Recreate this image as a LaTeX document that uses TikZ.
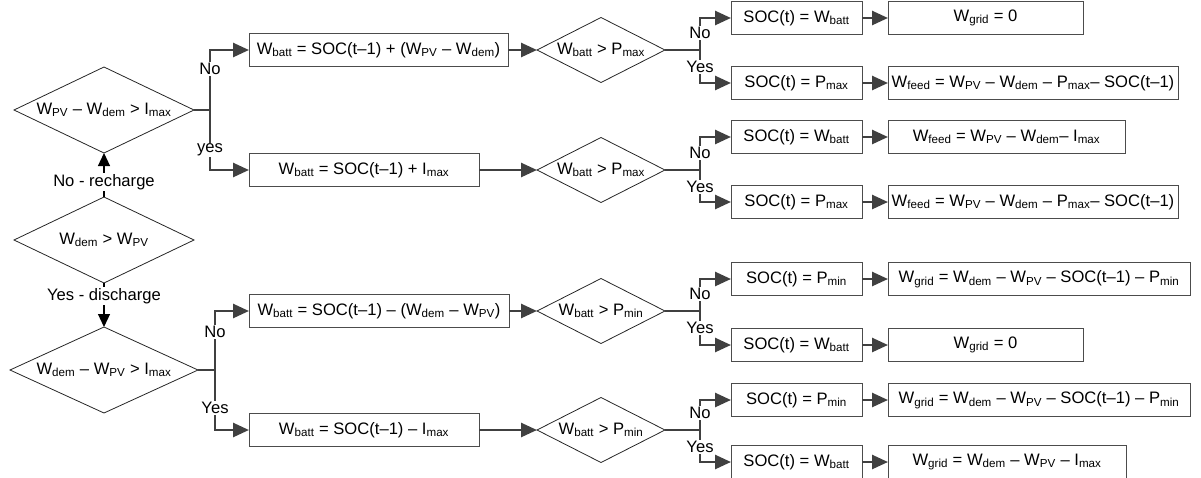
\documentclass[tikz,border=0pt]{standalone}
\usepackage{fontspec}
\setmainfont{Liberation Sans}
\usetikzlibrary{arrows.meta}
\newcommand\sbs[1]{\textsubscript{#1}}
\definecolor{linegray}{HTML}{404040}
\begin{document}
\begin{tikzpicture}[x=1pt,y=-1pt,
  font=\fontsize{16.6}{20}\selectfont,
  box/.style={draw=black!70, line width=1pt, rectangle, minimum height=33pt,
    inner sep=0pt, outer sep=0pt, anchor=west, fill=white},
  % decision nodes: a fixed frame whose edge midpoints carry the diamond outline
  decision/.style={rectangle, inner sep=0pt, outer sep=0pt},
  bigdecision/.style={decision, minimum width=180pt, minimum height=86pt},
  smalldecision/.style={decision, minimum width=128pt, minimum height=65pt},
  diamondline/.style={draw=black!85, line width=0.8pt, line join=miter},
  flow/.style={draw=linegray, line width=2.6pt, line join=miter},
  flowarr/.style={flow, -{Triangle[length=16pt,width=14pt]}},
  mainarr/.style={draw=black, line width=1.2pt, -{Triangle[length=13pt,width=12pt]}},
  lbl/.style={fill=white, inner sep=1pt},
]
\useasboundingbox (0,0) rectangle (1201,477);

% first-level decisions
\node[bigdecision] (d1) at (104,110) {W\sbs{PV} -- W\sbs{dem} > I\sbs{max}};
\node[bigdecision] (d2) at (104,240) {W\sbs{dem} > W\sbs{PV}};
\node[bigdecision, minimum width=188pt] (d3) at (104,370) {W\sbs{dem} -- W\sbs{PV} > I\sbs{max}};

% battery energy updates
\node[box, minimum width=259pt] (b1) at (249,50) {W\sbs{batt} = SOC(t--1) + (W\sbs{PV} -- W\sbs{dem})};
\node[box, minimum width=230pt] (b2) at (249,170) {W\sbs{batt} = SOC(t--1) + I\sbs{max}};
\node[box, minimum width=260pt] (b3) at (249,311) {W\sbs{batt} = SOC(t--1) -- (W\sbs{dem} -- W\sbs{PV})};
\node[box, minimum width=230pt] (b4) at (249,430) {W\sbs{batt} = SOC(t--1) -- I\sbs{max}};

% limit checks
\node[smalldecision] (d4) at (601,50) {W\sbs{batt} > P\sbs{max}};
\node[smalldecision] (d5) at (601,170) {W\sbs{batt} > P\sbs{max}};
\node[smalldecision] (d6) at (601,311) {W\sbs{batt} > P\sbs{min}};
\node[smalldecision] (d7) at (601,430) {W\sbs{batt} > P\sbs{min}};

% diamond outlines
\foreach \d in {d1,d2,d3,d4,d5,d6,d7}{
  \draw[diamondline] (\d.west) -- (\d.north) -- (\d.east) -- (\d.south) -- cycle;
}

% state of charge
\node[box, minimum width=131pt] (s11) at (731,18) {SOC(t) = W\sbs{batt}};
\node[box, minimum width=131pt] (s12) at (731,83) {SOC(t) = P\sbs{max}};
\node[box, minimum width=131pt] (s21) at (731,137) {SOC(t) = W\sbs{batt}};
\node[box, minimum width=131pt] (s22) at (731,202) {SOC(t) = P\sbs{max}};
\node[box, minimum width=131pt] (s31) at (731,279) {SOC(t) = P\sbs{min}};
\node[box, minimum width=131pt] (s32) at (731,345) {SOC(t) = W\sbs{batt}};
\node[box, minimum width=131pt] (s41) at (731,400) {SOC(t) = P\sbs{min}};
\node[box, minimum width=131pt] (s42) at (731,462) {SOC(t) = W\sbs{batt}};

% grid exchange
\node[box, minimum width=195pt] (r11) at (888,18) {W\sbs{grid} = 0};
\node[box, minimum width=290pt] (r12) at (888,83) {W\sbs{feed} = W\sbs{PV} -- W\sbs{dem} -- P\sbs{max}-- SOC(t--1)};
\node[box, minimum width=237pt] (r21) at (888,137) {W\sbs{feed} = W\sbs{PV} -- W\sbs{dem}-- I\sbs{max}};
\node[box, minimum width=290pt] (r22) at (888,202) {W\sbs{feed} = W\sbs{PV} -- W\sbs{dem} -- P\sbs{max}-- SOC(t--1)};
\node[box, minimum width=302pt] (r31) at (888,279) {W\sbs{grid} = W\sbs{dem} -- W\sbs{PV} -- SOC(t--1) -- P\sbs{min}};
\node[box, minimum width=195pt] (r32) at (888,345) {W\sbs{grid} = 0};
\node[box, minimum width=302pt] (r41) at (888,400) {W\sbs{grid} = W\sbs{dem} -- W\sbs{PV} -- SOC(t--1) -- P\sbs{min}};
\node[box, minimum width=238pt] (r42) at (888,462) {W\sbs{grid} = W\sbs{dem} -- W\sbs{PV} -- I\sbs{max}};

% branch points
\coordinate (j1) at (210,110);
\coordinate (j3) at (215,370);
\coordinate (t4) at (700,50);
\coordinate (t5) at (700,170);
\coordinate (t6) at (700,311);
\coordinate (t7) at (700,430);

% main flow between first-level decisions
\draw[mainarr] (d2.north) -- (d1.south);
\draw[mainarr] (d2.south) -- (d3.north);

% branches of the first-level decisions
\draw[flow] (d1.east) -- (j1);
\draw[flowarr] (j1) |- (b1.west);
\draw[flowarr] (j1) |- (b2.west);
\draw[flow] (d3.east) -- (j3);
\draw[flowarr] (j3) |- (b3.west);
\draw[flowarr] (j3) |- (b4.west);

% updates into limit checks
\draw[flowarr] (b1.east) -- (d4.west);
\draw[flowarr] (b2.east) -- (d5.west);
\draw[flowarr] (b3.east) -- (d6.west);
\draw[flowarr] (b4.east) -- (d7.west);

% limit check branches
\foreach \d/\t/\a/\b in {d4/t4/s11/s12, d5/t5/s21/s22, d6/t6/s31/s32, d7/t7/s41/s42}{
  \draw[flow] (\d.east) -- (\t);
  \draw[flowarr] (\t) |- (\a.west);
  \draw[flowarr] (\t) |- (\b.west);
}

% state of charge into grid exchange
\foreach \a/\b in {s11/r11, s12/r12, s21/r21, s22/r22, s31/r31, s32/r32, s41/r41, s42/r42}{
  \draw[flowarr] (\a.east) -- (\b.west);
}

% branch labels
\node[lbl] (lrech) at (104,182) {No - recharge};
\node[lbl] (ldisc) at (104,296) {Yes - discharge};
\node[lbl] (l1no) at (210,69) {No};
\node[lbl] (l1yes) at (210,150) {yes};
\node[lbl] (l3no) at (215,332) {No};
\node[lbl] (l3yes) at (215,408) {Yes};
\node[lbl] (l4no) at (700,33) {No};
\node[lbl] (l4yes) at (700,67) {Yes};
\node[lbl] (l5no) at (700,153) {No};
\node[lbl] (l5yes) at (700,187) {Yes};
\node[lbl] (l6no) at (700,294) {No};
\node[lbl] (l6yes) at (700,328) {Yes};
\node[lbl] (l7no) at (700,413) {No};
\node[lbl] (l7yes) at (700,447) {Yes};
\end{tikzpicture}
\end{document}
